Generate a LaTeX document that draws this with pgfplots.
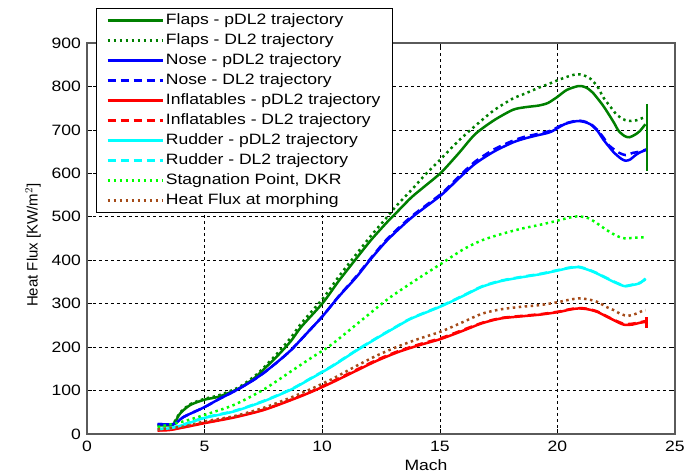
\documentclass[border=0pt]{standalone}
\usepackage{fontspec}
\setmainfont{Liberation Sans}[FakeStretch=1.17]
\newfontfamily\uprightlabel{Liberation Sans}
\usepackage{pgfplots}
\pgfplotsset{compat=1.18}

\definecolor{flapgreen}{RGB}{0,128,0}
\definecolor{stagreen}{RGB}{0,255,0}
\definecolor{rudder}{RGB}{0,255,255}
\definecolor{morph}{RGB}{165,75,25}
\definecolor{axisgray}{RGB}{90,90,90}

\newcommand{\txt}{\fontsize{15pt}{18pt}\selectfont}

\begin{document}
\begin{tikzpicture}
\begin{axis}[
  at={(0pt,0pt)}, anchor=south west,
  scale only axis, width=588pt, height=391pt,
  xmin=0, xmax=25, ymin=0, ymax=900,
  xtick={0,5,10,15,20,25}, ytick={0,100,200,300,400,500,600,700,800,900},
  /pgf/number format/assume math mode=true,
  tick label style={font=\txt},
  xticklabel style={inner sep=0pt, yshift=-7pt},
  yticklabel style={inner sep=0pt, xshift=-6pt},
  tick align=inside, major tick length=5pt,
  tick style={black, line width=0.6pt},
  axis line style={draw=axisgray, line width=1.3pt},
  grid=major,
  major grid style={black, line width=0.6pt, dash pattern=on 3pt off 3pt},
  xlabel={Mach},
  xlabel style={font=\txt, at={(axis description cs:0.5765,-0.0793)}, anchor=center},
  ylabel={Heat Flux [KW/m$^2$]},
  ylabel style={font=\fontsize{15pt}{18pt}\uprightlabel, at={(axis description cs:-0.0918,0.483)}, anchor=center},
  legend cell align=left,
  legend image code/.code={\draw[#1] (0pt,0pt) -- (55pt,0pt);},
  legend style={
    at={(rel axis cs:0.0153,1.0895)}, anchor=north west,
    draw=black, line width=0.8pt, fill=white,
    font=\txt, inner xsep=10pt, inner ysep=3pt, row sep=2pt,
    nodes={inner sep=2pt, text height=11pt, text depth=3pt},
    /tikz/every even column/.append style={column sep=3pt},
  },
  every axis plot/.append style={line width=2.5pt, line join=round},
  curve/.style={smooth, tension=0.45},
  solidline/.style={solid},
  dotline/.style={dash pattern=on 2.5pt off 3.5pt},
  dashline/.style={dash pattern=on 8pt off 5pt},
]

% Flaps, pDL2 trajectory
\addplot[flapgreen, solidline, curve] coordinates {
(3.0,20) (3.6,20) (3.75,28) (3.97,48) (4.4,67) (5.0,79) (5.54,85) (6.0,94)
(6.5,106) (7.1,128) (7.5,148) (8.1,180) (8.67,214) (9.1,246) (10.03,302)
(10.7,352) (11.45,404) (12.1,448) (12.8,490) (13.2,512) (13.8,545) (14.4,572)
(15.06,602) (15.8,646) (16.5,690) (17.3,722) (18.1,746) (18.6,752) (19.2,756)
(19.6,762) (20.0,776) (20.4,792) (20.9,801) (21.2,798) (21.5,786) (21.9,759)
(22.1,743) (22.4,717) (22.6,698) (22.85,686) (23.06,683) (23.3,689) (23.5,697)
(23.74,713)};
\addlegendentry{Flaps - pDL2 trajectory}
% Flaps, DL2 trajectory
\addplot[flapgreen, dotline, curve] coordinates {
(3.0,21) (3.6,21) (3.75,31) (3.97,50) (4.4,69) (5.0,81) (5.54,88) (6.0,97)
(6.5,109) (7.1,132) (7.5,152) (8.1,186) (8.67,222) (9.1,254) (10.03,312)
(10.7,362) (11.45,414) (12.1,458) (12.8,502) (13.2,528) (13.8,562) (14.4,598)
(15.06,634) (15.8,675) (16.5,709) (17.3,745) (18.1,772) (18.6,783) (19.2,797)
(19.6,805) (20.0,814) (20.4,822) (20.8,828) (21.1,826) (21.4,818) (21.7,800)
(21.95,775) (22.3,750) (22.5,736) (22.78,725) (23.0,721) (23.35,722) (23.74,730)};
\addlegendentry{Flaps - DL2 trajectory}
% Nose, pDL2 trajectory
\addplot[blue, solidline, curve] coordinates {
(3.0,23) (3.7,23) (4.1,39) (5.0,62) (5.6,80) (6.25,98) (6.9,118) (7.5,140)
(8.1,166) (8.67,193) (9.4,235) (10.03,272) (10.7,316) (11.45,361) (12.1,405)
(12.8,448) (13.8,498) (15.06,550) (15.8,588) (16.5,622) (17.3,650) (18.1,671)
(18.6,680) (19.1,687) (19.7,695) (20.3,713) (20.8,720) (21.1,719) (21.4,713)
(21.7,698) (21.95,678) (22.2,661) (22.4,648) (22.7,634) (22.9,629) (23.1,632)
(23.3,641) (23.5,648) (23.78,654)};
\addlegendentry{Nose - pDL2 trajectory}
% Nose, DL2 trajectory
\addplot[blue, dashline, curve] coordinates {
(3.0,23) (3.7,23) (4.1,39) (5.0,62) (5.6,80) (6.25,98) (6.9,118) (7.5,140)
(8.1,166) (8.67,193) (9.4,235) (10.03,272) (10.7,317) (11.45,363) (12.1,407)
(12.8,451) (13.8,501) (15.06,553) (15.8,592) (16.5,627) (17.3,655) (18.1,675)
(18.6,684) (19.1,690) (19.7,698) (20.3,714) (20.8,721) (21.1,720) (21.4,714)
(21.7,700) (21.95,683) (22.2,664) (22.6,648) (22.9,642) (23.2,647) (23.5,650)
(23.78,655)};
\addlegendentry{Nose - DL2 trajectory}
% Inflatables, pDL2 trajectory
\addplot[red, solidline, curve] coordinates {
(3.0,8) (3.5,9) (4.1,15) (5.0,25) (6.25,38) (7.5,55) (8.67,78) (9.5,96)
(10.4,118) (11.5,147) (12.3,168) (13.2,188) (14.1,204) (15.06,219) (16.0,238)
(16.8,255) (17.6,266) (18.5,271) (19.3,275) (20.07,281) (20.5,286) (20.9,289)
(21.3,287) (21.7,281) (22.1,270) (22.4,262) (22.7,254) (22.9,251) (23.2,252)
(23.5,256) (23.75,258)};
\addlegendentry{Inflatables - pDL2 trajectory}
% Inflatables, DL2 trajectory
\addplot[red, dashline, curve] coordinates {
(3.0,9) (3.5,10) (4.1,16) (5.0,26) (6.25,39) (7.5,56) (8.67,79) (9.5,97)
(10.4,120) (11.5,149) (12.3,170) (13.2,190) (14.1,206) (15.06,221) (16.0,240)
(16.8,256) (17.6,267) (18.5,272) (19.3,276) (20.07,282) (20.5,287) (20.9,290)
(21.3,288) (21.7,282) (22.1,271) (22.4,263) (22.7,256) (22.9,253) (23.2,254)
(23.5,257) (23.75,260)};
\addlegendentry{Inflatables - DL2 trajectory}
% Rudder, pDL2 trajectory
\addplot[rudder, solidline, curve] coordinates {
(3.0,12) (3.5,13) (4.1,21) (5.0,37) (6.25,52) (7.5,75) (8.67,102) (9.5,127)
(10.4,155) (11.4,190) (12.4,223) (13.2,248) (13.8,266) (15.06,294) (16.0,318)
(16.8,339) (17.6,352) (18.5,361) (19.3,368) (20.07,377) (20.5,382) (20.9,384)
(21.3,378) (21.7,369) (22.1,358) (22.4,350) (22.7,343) (22.9,340) (23.2,343)
(23.5,347) (23.75,358)};
\addlegendentry{Rudder - pDL2 trajectory}
% Rudder, DL2 trajectory
\addplot[rudder, dashline, curve] coordinates {
(3.0,12) (3.5,13) (4.1,22) (5.0,38) (6.25,53) (7.5,76) (8.67,103) (9.5,128)
(10.4,156) (11.4,191) (12.4,224) (13.2,249) (13.8,267) (15.06,295) (16.0,319)
(16.8,340) (17.6,353) (18.5,362) (19.3,369) (20.07,378) (20.5,383) (20.9,385)
(21.3,379) (21.7,370) (22.1,359) (22.4,351) (22.7,344) (22.9,341) (23.2,344)
(23.5,348) (23.75,356)};
\addlegendentry{Rudder - DL2 trajectory}
% Stagnation point, DKR
\addplot[stagreen, dotline, curve] coordinates {
(3.0,16) (4.1,29) (5.0,44) (6.25,67) (7.5,102) (8.67,144) (9.5,174) (10.4,206)
(11.7,263) (12.8,311) (13.8,348) (15.06,392) (16.0,425) (16.8,446)
(17.6,460) (18.5,473) (19.3,482) (20.07,492) (20.5,498) (20.9,501) (21.3,497)
(21.6,488) (22.0,473) (22.35,461) (22.7,452) (22.9,450) (23.3,452) (23.8,453)};
\addlegendentry{Stagnation Point, DKR}
% Heat flux at morphing
\addplot[morph, dotline, curve] coordinates {
(3.0,11) (4.1,17) (5.0,29) (6.25,41) (7.5,60) (8.67,84) (9.5,103) (10.4,126)
(11.5,158) (12.3,180) (13.2,201) (14.1,219) (15.06,236) (16.0,258) (16.8,277)
(17.6,287) (18.5,293) (19.3,297) (20.07,304) (20.5,309) (20.9,312) (21.3,310)
(21.7,304) (22.1,292) (22.4,285) (22.7,276) (23.0,272) (23.3,276) (23.6,283)
(23.75,285)};
\addlegendentry{Heat Flux at morphing}

% closing jumps at the end of the trajectories
\addplot[flapgreen, solidline, forget plot] coordinates {(23.81,760) (23.81,606)};
\addplot[red, solidline, forget plot] coordinates {(23.78,244) (23.78,270)};
\end{axis}
\pgfresetboundingbox
\useasboundingbox (-87pt,-42pt) rectangle (612pt,434pt);
\end{tikzpicture}
\end{document}
